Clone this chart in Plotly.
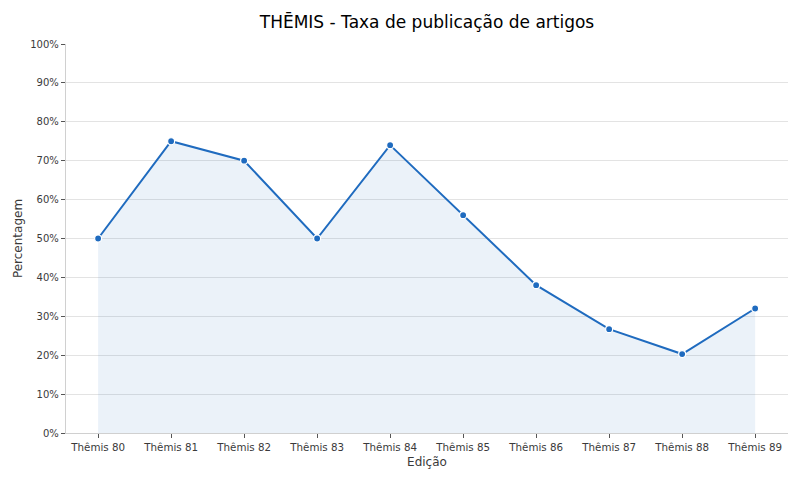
import plotly.graph_objects as go

categorias = ["Thêmis 80", "Thêmis 81", "Thêmis 82", "Thêmis 83", "Thêmis 84",
              "Thêmis 85", "Thêmis 86", "Thêmis 87", "Thêmis 88", "Thêmis 89"]
taxa = [50, 75, 70, 50, 74, 56, 38, 26.7, 20.3, 32]
ticks_y = [0, 10, 20, 30, 40, 50, 60, 70, 80, 90, 100]
ticks_y_txt = [f"{v}%" for v in ticks_y]

fig = go.Figure()
fig.add_trace(go.Scatter(
    x=categorias, y=taxa, mode="lines+markers",
    line=dict(color="#1f6bbf", width=2),
    marker=dict(size=7, color="#1f6bbf", line=dict(color="white", width=1.2)),
    fill="tozeroy", fillcolor="rgba(31,107,191,0.09)",
    showlegend=False,
))

font = "DejaVu Sans"
fig.update_layout(
    width=800, height=480,
    margin=dict(l=66, r=12, t=44, b=47, autoexpand=False),
    paper_bgcolor="white", plot_bgcolor="white",
    font=dict(family=font, size=10, color="#3a3a3a"),
    title=dict(text="THĒMIS - Taxa de publicação de artigos", xref="paper", x=0.5,
               xanchor="center", yref="container", y=0.955, yanchor="middle",
               automargin=False,
               font=dict(family=font, size=17, color="black")),
    xaxis=dict(
        title=dict(text="Edição", font=dict(size=12, color="#3a3a3a"), standoff=6),
        range=[-0.44, 9.45], showgrid=False, automargin=False,
        showline=True, linecolor="#d0d0d0", linewidth=1.3,
        ticks="outside", ticklen=4, tickcolor="#555555",
        tickfont=dict(size=10.3, color="#3a3a3a"),
    ),
    yaxis=dict(
        title=dict(text="Percentagem", font=dict(size=12, color="#3a3a3a"), standoff=5),
        range=[0, 100], tickvals=ticks_y, ticktext=ticks_y_txt, automargin=False,
        showgrid=True, gridcolor="#e3e3e3", gridwidth=1,
        showline=True, linecolor="#d0d0d0", linewidth=1.3,
        ticks="outside", ticklen=4, tickcolor="#555555",
        tickfont=dict(size=10, color="#3a3a3a"), zeroline=False,
    ),
)

fig.write_html("out.html", config={"displayModeBar": False},
               post_script="document.body.style.margin='0';")
